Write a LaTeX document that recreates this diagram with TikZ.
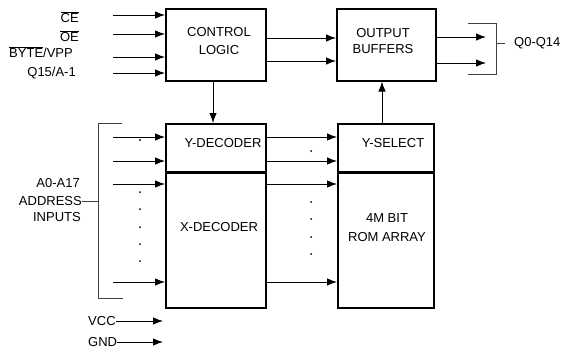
\documentclass[tikz,border=0pt]{standalone}
\usepackage{fontspec}
\setmainfont{Liberation Sans}
\usetikzlibrary{arrows.meta}
\begin{document}
\begin{tikzpicture}[x=1pt,y=-1pt,
 blk/.style={draw, line width=1.5pt, anchor=north west, inner sep=0pt},
 lbl/.style={font=\fontsize{13}{15}\selectfont, inner sep=0pt},
 sig/.style={line width=0.9pt, -{Latex[length=10pt,width=7.5pt]}},
 brk/.style={line width=0.8pt, black!75},
 dotm/.style={circle, fill, inner sep=0pt, minimum size=2pt}]
\useasboundingbox (0,0) rectangle (569,348);
% boxes
\node[blk, minimum width=100pt, minimum height=72pt] (ctrl) at (165,8) {};
\node[blk, minimum width=99pt, minimum height=72pt] (outb) at (336,8) {};
\node[blk, minimum width=100pt, minimum height=48pt] (ydec) at (165,123) {};
\node[blk, minimum width=100pt, minimum height=136pt] (xdec) at (165,171) {};
\node[blk, minimum width=96pt, minimum height=48pt] (ysel) at (337,123) {};
\node[blk, minimum width=96pt, minimum height=136pt] (rom) at (337,171) {};
\draw[line width=2.8pt] (ydec.south west) -- (ydec.south east);
\draw[line width=2.8pt] (ysel.south west) -- (ysel.south east);
% box texts
\node[lbl] (t1) at (219,32) {CONTROL};
\node[lbl] (t2) at (219,50) {LOGIC};
\node[lbl] (t3) at (383,33) {OUTPUT};
\node[lbl] (t4) at (383,49) {BUFFERS};
\node[lbl] (t5) at (223,143) {Y-DECODER};
\node[lbl] (t6) at (219,227) {X-DECODER};
\node[lbl] (t7) at (393,143) {Y-SELECT};
\node[lbl] (t8) at (387,218) {4M BIT};
\node[lbl] (t9) at (387,237) {ROM ARRAY};
% left labels
\node[lbl, anchor=east] (ce) at (79,17) {$\overline{\mbox{CE}}$};
\node[lbl, anchor=east] (oe) at (79,36) {$\overline{\mbox{OE}}$};
\node[lbl, anchor=east] (byte) at (73,52) {$\overline{\mbox{BYTE}}$/VPP};
\node[lbl, anchor=east] (q15) at (76,73) {Q15/A-1};
\node[lbl, anchor=east] (a0) at (80,183) {A0-A17};
\node[lbl, anchor=east] (addr) at (82,201) {ADDRESS};
\node[lbl, anchor=east] (inp) at (81,217) {INPUTS};
\node[lbl, anchor=west] (vcc) at (88,321) {VCC};
\node[lbl, anchor=west] (gnd) at (88,342) {GND};
\node[lbl, anchor=west] (qout) at (514,43) {Q0-Q14};
% control inputs
\coordinate (c1) at (113,15);
\coordinate (c2) at (113,34);
\coordinate (c3) at (113,57);
\coordinate (c4) at (113,73);
\foreach \c in {c1,c2,c3,c4} \draw[sig] (\c) -- (ctrl.west |- \c);
% control to output buffers
\coordinate (m1) at (300,38);
\coordinate (m2) at (300,61);
\draw[sig] (ctrl.east |- m1) -- (outb.west |- m1);
\draw[sig] (ctrl.east |- m2) -- (outb.west |- m2);
% outputs
\coordinate (o1) at (486,37);
\coordinate (o2) at (486,63);
\draw[sig] (outb.east |- o1) -- (o1);
\draw[sig] (outb.east |- o2) -- (o2);
\draw[brk] (468,23) -- (496,23) -- (496,74) -- (468,74);
\draw[brk] (496,43) -- (qout.west -| 505,0);
% vertical arrows
\coordinate (cd) at (213,100);
\coordinate (cu) at (382,100);
\draw[sig] (ctrl.south -| cd) -- (ydec.north -| cd);
\draw[sig] (ysel.north -| cu) -- (outb.south -| cu);
% address inputs
\coordinate (a1) at (113,137);
\coordinate (a2) at (113,161);
\coordinate (a3) at (113,184);
\coordinate (a4) at (113,282);
\draw[sig] (a1) -- (ydec.west |- a1);
\draw[sig] (a2) -- (ydec.west |- a2);
\draw[sig] (a3) -- (xdec.west |- a3);
\draw[sig] (a4) -- (xdec.west |- a4);
% decoder to array
\draw[sig] (ydec.east |- a1) -- (ysel.west |- a1);
\draw[sig] (ydec.east |- a2) -- (ysel.west |- a2);
\draw[sig] (xdec.east |- a3) -- (rom.west |- a3);
\draw[sig] (xdec.east |- a4) -- (rom.west |- a4);
% address bracket
\draw[brk] (122,123) -- (98,123) -- (98,298) -- (123,298);
\draw[brk] (addr.east) -- (addr.east -| 98,0);
% dots
\foreach \y in {140,192,209,227,244,261} \node[dotm] at (140,\y) {};
\foreach \y in {151,202,219,237,254} \node[dotm] at (311,\y) {};
% power
\draw[sig] (vcc.east) -- (163,321);
\draw[sig] (gnd.east) -- (163,342);
\end{tikzpicture}
\end{document}
